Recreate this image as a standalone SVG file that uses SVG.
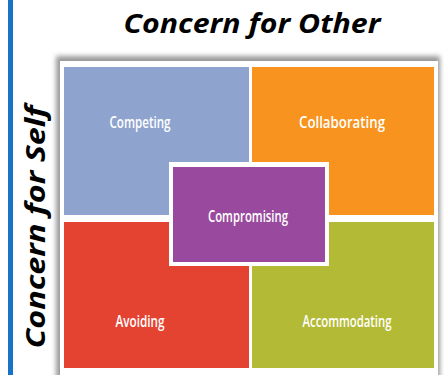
<svg xmlns="http://www.w3.org/2000/svg" width="444" height="375" viewBox="0 0 444 375">
  <defs>
    <filter id="soft" x="-10%" y="-10%" width="120%" height="120%">
      <feGaussianBlur stdDeviation="2.5"/>
    </filter>
    <style>
      .axis { font-family: "Open Sans", "Liberation Sans", sans-serif; font-weight: 700; font-style: italic; font-size: 26px; fill: #000; }
      .lbl { font-family: "Open Sans", "Liberation Sans", sans-serif; font-weight: 600; font-size: 17px; fill: #fff; text-anchor: middle; }
      .tile { stroke: none; }
    </style>
  </defs>

  <rect width="444" height="375" fill="#fff"/>
  <!-- left accent bar -->
  <rect x="8" y="0" width="5" height="375" fill="#1A72C6"/>

  <!-- axis titles -->
  <text class="axis" x="252" y="33" text-anchor="middle" textLength="257" lengthAdjust="spacingAndGlyphs">Concern for Other</text>
  <text class="axis" transform="translate(45,227) rotate(-90)" text-anchor="middle" textLength="243" lengthAdjust="spacingAndGlyphs">Concern for Self</text>

  <!-- panel with soft shadow -->
  <rect x="56" y="56" width="384" height="330" fill="#9a9a9a" filter="url(#soft)"/>
  <rect x="60" y="61" width="378" height="320" fill="#fff"/>

  <g id="competing">
    <rect class="tile" x="64" y="67" width="185" height="148" fill="#8EA4CF"/>
    <text class="lbl" x="140" y="128" textLength="61" lengthAdjust="spacingAndGlyphs">Competing</text>
  </g>
  <g id="collaborating">
    <rect class="tile" x="252" y="67" width="182" height="148" fill="#F7931E"/>
    <text class="lbl" x="342" y="128" textLength="86" lengthAdjust="spacingAndGlyphs">Collaborating</text>
  </g>
  <g id="avoiding">
    <rect class="tile" x="64" y="222" width="185" height="146" fill="#E44332"/>
    <text class="lbl" x="140" y="327" textLength="49" lengthAdjust="spacingAndGlyphs">Avoiding</text>
  </g>
  <g id="accommodating">
    <rect class="tile" x="252" y="222" width="182" height="146" fill="#B3BA35"/>
    <text class="lbl" x="347" y="327" textLength="89" lengthAdjust="spacingAndGlyphs">Accommodating</text>
  </g>
  <g id="compromising">
    <rect x="169" y="162" width="160" height="104" fill="#fff"/>
    <rect class="tile" x="173" y="167" width="152" height="95" fill="#9A4A9E"/>
    <text class="lbl" x="248" y="222" textLength="80" lengthAdjust="spacingAndGlyphs">Compromising</text>
  </g>

  <g id="connectors"/>
</svg>
